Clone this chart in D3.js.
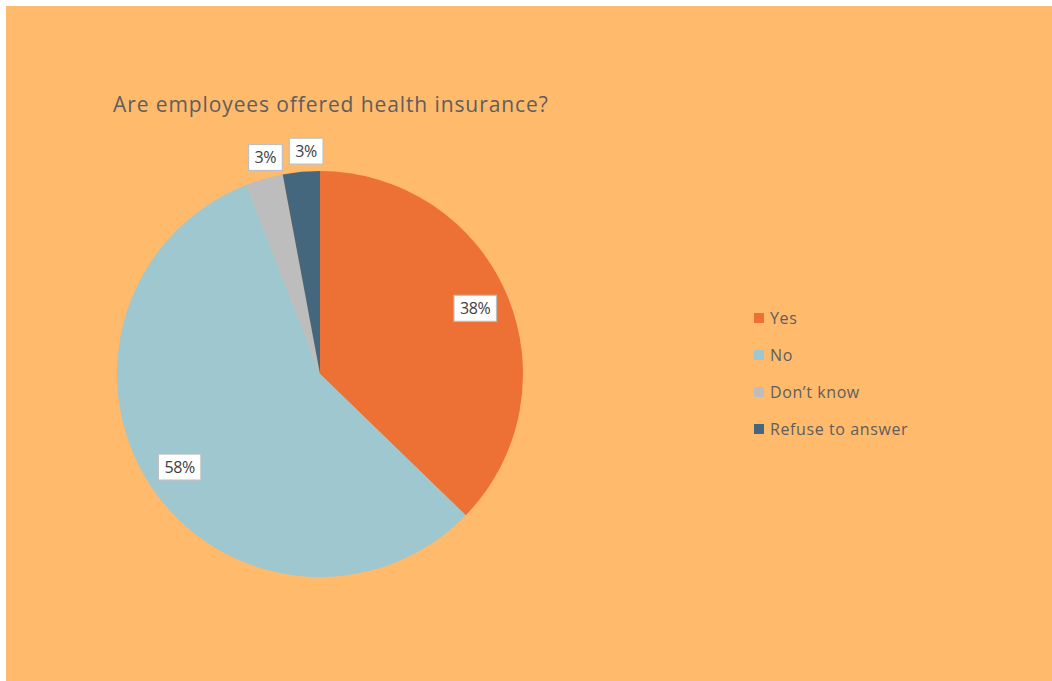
<!DOCTYPE html>
<html>
<head>
<meta charset="utf-8">
<script src="https://cdn.jsdelivr.net/npm/d3@7"></script>
<style>
  html, body { margin: 0; padding: 0; background: #ffffff; }
  svg { display: block; }
</style>
</head>
<body>
<svg id="chart" width="1052" height="681"></svg>
<script>
// Survey answers, in percent of respondents
const categories = ["Yes", "No", "Don\u2019t know", "Refuse to answer"];
const values = [38, 58, 3, 3];
const colors = ["#ED7034", "#9FC7D0", "#BDBDBD", "#44677E"];
const title = "Are employees offered health insurance?";

const W = 1052, H = 681;
const FONT = "'Open Sans', sans-serif";
const svg = d3.select("#chart");

// Chart area background
svg.append("rect")
  .attr("x", 6).attr("y", 6)
  .attr("width", W - 6).attr("height", H - 6)
  .attr("fill", "#FFBA6C");

svg.append("text")
  .attr("x", 113).attr("y", 112)
  .attr("font-family", FONT)
  .attr("font-size", 21)
  .attr("letter-spacing", 0.9)
  .attr("fill", "#5E5E5E")
  .text(title);

const cx = 320, cy = 374, r = 203;
const color = d3.scaleOrdinal().domain(categories).range(colors);

const pie = d3.pie().sort(null).value(d => d.value);
const data = pie(categories.map((c, i) => ({ cat: c, value: values[i] })));
const arc = d3.arc().innerRadius(0).outerRadius(r);

const g = svg.append("g").attr("transform", `translate(${cx},${cy})`);
g.selectAll("path.slice")
  .data(data)
  .join("path")
  .attr("class", "slice")
  .attr("d", arc)
  .attr("fill", d => color(d.data.cat));

// Data labels: inside for large slices, just outside the rim for small ones
const total = d3.sum(values);
const labels = g.selectAll("g.lbl")
  .data(data)
  .join("g")
  .attr("class", "lbl")
  .attr("transform", (d, i) => {
    const share = d.data.value / total;
    const rr = share > 0.1 ? r * 0.83 : r * 1.1;
    const a = (d.startAngle + d.endAngle) / 2 + (share > 0.1 ? 0 : 0.03);
    return `translate(${rr * Math.sin(a)},${-rr * Math.cos(a)})`;
  });

labels.each(function(d) {
  const sel = d3.select(this);
  const t = sel.append("text")
    .attr("text-anchor", "middle")
    .attr("dominant-baseline", "central")
    .attr("font-family", FONT)
    .attr("font-size", 16)
    .attr("letter-spacing", -0.4)
    .attr("fill", "#404040")
    .text(d.data.value + "%");
  const bb = t.node().getBBox();
  sel.insert("rect", "text")
    .attr("x", bb.x - 6).attr("y", -13)
    .attr("width", bb.width + 12).attr("height", 26)
    .attr("fill", "#ffffff")
    .attr("stroke", "#BFBFBF")
    .attr("stroke-width", 1.2);
});

// Legend
const legend = svg.append("g").attr("transform", "translate(754,318)");
const row = legend.selectAll("g")
  .data(categories)
  .join("g")
  .attr("transform", (d, i) => `translate(0,${i * 37})`);
row.append("rect")
  .attr("x", 0).attr("y", -5)
  .attr("width", 10).attr("height", 10)
  .attr("fill", d => color(d));
row.append("text")
  .attr("x", 16).attr("y", 0)
  .attr("dominant-baseline", "central")
  .attr("font-family", FONT)
  .attr("font-size", 16)
  .attr("letter-spacing", 0.6)
  .attr("fill", "#5E5E5E")
  .text(d => d);
</script>
</body>
</html>
